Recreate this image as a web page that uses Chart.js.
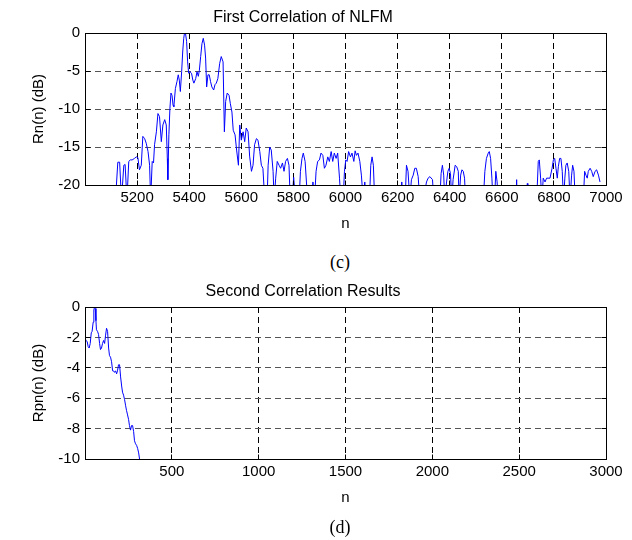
<!DOCTYPE html>
<html>
<head>
<meta charset="utf-8">
<script src="https://cdn.jsdelivr.net/npm/chart.js@4.4.1/dist/chart.umd.min.js"></script>
<style>
  html, body { margin: 0; padding: 0; background: #fff; }
  #page { position: relative; width: 632px; height: 540px; overflow: hidden; }
  .box { position: absolute; left: 0; width: 632px; height: 250px; }
  .cap { position: absolute; left: 300px; width: 80px; text-align: center; font: 18px "Liberation Serif", serif; color: #000; line-height: 20px; }
</style>
</head>
<body>
<div id="page">
  <div class="box" style="top:0"><canvas id="first"></canvas></div>
  <div class="cap" style="top:252px">(c)</div>
  <div class="box" style="top:274px"><canvas id="second"></canvas></div>
  <div class="cap" style="top:517px">(d)</div>
</div>
<script>
  // First correlation of NLFM (values below -20 dB run off the axis)
  const firstN = [
    5117, 5126, 5133, 5140, 5149, 5154, 5161, 5168, 5174, 5181,
    5190, 5197, 5203, 5209, 5216, 5222, 5229, 5235, 5242, 5248,
    5252, 5258, 5263, 5267, 5274, 5280, 5286, 5293, 5299, 5306,
    5312, 5316, 5318, 5322, 5326, 5330, 5334, 5338, 5341, 5347,
    5353, 5358, 5362, 5366, 5371, 5375, 5379, 5382, 5386, 5390,
    5394, 5398, 5403, 5409, 5414, 5418, 5425, 5430, 5435, 5439,
    5444, 5449, 5454, 5459, 5463, 5467, 5472, 5477, 5482, 5487,
    5494, 5499, 5504, 5510, 5517, 5523, 5530, 5535, 5540, 5546,
    5553, 5558, 5564, 5569, 5576, 5582, 5589, 5594, 5600, 5607,
    5613, 5619, 5626, 5632, 5639, 5645, 5651, 5658, 5664, 5671,
    5677, 5683, 5690, 5699, 5703, 5709, 5715, 5722, 5726, 5732,
    5738, 5745, 5751, 5758, 5764, 5770, 5777, 5783, 5788, 5795,
    5801, 5808, 5822, 5827, 5833, 5838, 5845, 5850, 5855, 5870,
    5875, 5881, 5887, 5893, 5900, 5906, 5913, 5919, 5925, 5932,
    5938, 5945, 5951, 5957, 5964, 5970, 5977, 5982, 5991, 5996,
    6001, 6006, 6012, 6019, 6025, 6032, 6037, 6042, 6048, 6055,
    6061, 6068, 6074, 6080, 6092, 6097, 6102, 6107, 6112, 6212,
    6216, 6221, 6229, 6234, 6240, 6247, 6253, 6260, 6266, 6272,
    6279, 6285, 6298, 6311, 6317, 6324, 6334, 6339, 6362, 6367,
    6372, 6377, 6381, 6388, 6393, 6398, 6403, 6408, 6413, 6421,
    6427, 6433, 6436, 6442, 6447, 6452, 6457, 6461, 6529, 6535,
    6541, 6548, 6552, 6557, 6562, 6566, 6572, 6577, 6582, 6586,
    6654, 6657, 6659, 6696, 6698, 6700, 6734, 6740, 6744, 6749,
    6754, 6759, 6766, 6772, 6785, 6793, 6798, 6803, 6808, 6813,
    6817, 6822, 6827, 6832, 6837, 6842, 6846, 6851, 6857, 6862,
    6868, 6872, 6877, 6882, 6913, 6918, 6923, 6928, 6932, 6939,
    6945, 6951, 6958, 6964, 6971, 6977
  ];
  const firstDb = [
    -22, -17.0, -17.0, -22, -17.4, -17.3, -22, -16.9, -16.7, -16.7,
    -16.5, -16.3, -16.4, -18.0, -17.4, -13.6, -13.9, -14.5, -15.6, -17.4,
    -22, -16.9, -17.1, -14.7, -13.0, -10.6, -11.0, -14.3, -12.1, -11.4,
    -12.1, -16.5, -19.3, -13.4, -9.9, -7.9, -8.2, -9.5, -9.7, -7.3,
    -6.4, -5.5, -6.2, -7.7, -5.1, -2.5, -0.7, 0, -0.1, -1.1,
    -3.8, -5.3, -5.1, -5.3, -6.2, -6.6, -6.0, -5.1, -5.7, -4.9,
    -3.1, -1.4, -0.7, -1.6, -3.3, -7.1, -5.5, -5.5, -6.4, -7.1,
    -7.5, -6.8, -6.6, -6.0, -4.0, -3.1, -3.8, -13.0, -9.0, -7.9,
    -8.2, -9.3, -10.4, -12.8, -13.4, -15.4, -17.4, -12.1, -14.1, -13.0,
    -14.3, -12.5, -13.0, -16.2, -18.2, -17.4, -14.7, -13.9, -14.1, -15.6,
    -17.4, -17.8, -22, -22, -17.4, -15.0, -15.4, -18.2, -22, -19.1,
    -16.9, -17.4, -17.8, -17.1, -18.2, -16.9, -16.5, -17.4, -22, -22,
    -19.0, -22, -22, -18.2, -16.5, -15.8, -16.9, -19.6, -22, -22,
    -19.6, -22, -18.2, -16.9, -16.7, -15.8, -16.1, -17.8, -17.4, -16.3,
    -16.9, -15.6, -16.9, -15.8, -16.5, -15.8, -19.1, -22, -22, -18.2,
    -16.7, -16.9, -15.6, -16.3, -15.8, -16.9, -15.5, -16.1, -15.8, -16.9,
    -18.7, -22, -19.6, -22, -22, -17.4, -16.3, -17.4, -22, -22,
    -19.6, -22, -22, -17.4, -18.2, -22, -19.3, -18.7, -17.8, -17.8,
    -18.9, -22, -22, -19.6, -19.1, -18.9, -19.3, -22, -22, -18.5,
    -17.4, -18.7, -22, -19.6, -18.2, -17.8, -18.5, -22, -19.3, -17.4,
    -17.6, -18.2, -22, -18.7, -18.0, -18.2, -19.1, -22, -22, -18.2,
    -16.5, -15.8, -15.6, -16.5, -19.1, -22, -22, -18.2, -19.6, -22,
    -22, -19.3, -22, -22, -19.8, -22, -22, -16.9, -16.7, -19.1,
    -22, -19.1, -19.6, -19.1, -19.1, -17.8, -16.7, -16.5, -17.8, -19.1,
    -17.6, -16.5, -16.5, -18.2, -22, -19.1, -17.4, -17.1, -18.2, -22,
    -18.7, -17.4, -18.2, -22, -22, -18.2, -18.7, -19.1, -18.2, -17.8,
    -18.2, -18.9, -18.2, -18.0, -18.7, -19.6
  ];

  // Second correlation results
  const secondN = [
    1, 7, 13, 18, 24, 30, 36, 41, 47, 51,
    55, 59, 63, 66, 72, 78, 84, 89, 95, 101,
    107, 113, 118, 124, 130, 136, 141, 147, 153, 159,
    164, 170, 176, 182, 187, 193, 199, 205, 211, 216,
    222, 228, 234, 239, 245, 251, 256, 262, 268, 274,
    280, 285, 291, 297, 303, 309, 314, 320
  ];
  const secondDb = [
    -2.1, -2.2, -2.3, -2.6, -2.7, -2.4, -1.7, -1.6, -1.0, -0.2,
    0, -0.1, -0.9, -1.5, -1.6, -1.8, -2.4, -2.8, -2.7, -2.4,
    -2.2, -2.4, -1.9, -1.4, -1.6, -2.7, -3.2, -3.3, -3.6, -4.2,
    -4.2, -4.3, -4.2, -4.4, -4.2, -3.8, -3.8, -4.6, -5.2, -5.6,
    -5.8, -6.1, -6.5, -6.8, -7.1, -7.4, -7.8, -8.1, -7.8, -7.8,
    -8.2, -8.8, -9.0, -9.1, -9.3, -9.6, -10.0, -10.3
  ];

  const firstXTicks = [5200, 5400, 5600, 5800, 6000, 6200, 6400, 6600, 6800, 7000];
  const firstYTicks = [0, -5, -10, -15, -20];
  const secondXTicks = [500, 1000, 1500, 2000, 2500, 3000];
  const secondYTicks = [0, -2, -4, -6, -8, -10];

  const FONT = '"Liberation Sans", Arial, sans-serif';

  // matlab style box with inward ticks on all four sides
  const boxPlugin = {
    id: 'matlabBox',
    afterDraw(chart) {
      const { ctx, chartArea: a, scales } = chart;
      const px = (v) => Math.round(v - 0.5) + 0.5;
      const L = px(a.left), R = px(a.right), T = px(a.top), B = px(a.bottom);
      ctx.save();
      ctx.strokeStyle = '#000';
      ctx.lineWidth = 1;
      ctx.setLineDash([]);
      ctx.beginPath();
      scales.x.ticks.forEach((t) => {
        const x = px(scales.x.getPixelForValue(t.value));
        ctx.moveTo(x, B); ctx.lineTo(x, B - 5);
        ctx.moveTo(x, T); ctx.lineTo(x, T + 5);
      });
      scales.y.ticks.forEach((t) => {
        const y = px(scales.y.getPixelForValue(t.value));
        ctx.moveTo(L, y); ctx.lineTo(L + 5, y);
        ctx.moveTo(R, y); ctx.lineTo(R - 5, y);
      });
      ctx.stroke();
      ctx.strokeRect(L, T, R - L, B - T);
      ctx.restore();
    }
  };

  function makeChart(id, title, xs, ys, xMin, xMax, xTicks, yMin, yMax, yTicks, yLabel) {
    return new Chart(document.getElementById(id), {
      type: 'line',
      data: {
        datasets: [{
          data: xs.map((x, i) => ({ x, y: ys[i] })),
          borderColor: '#0000ff',
          borderWidth: 1,
          pointRadius: 0,
          tension: 0,
          fill: false
        }]
      },
      options: {
        responsive: true,
        maintainAspectRatio: false,
        animation: false,
        layout: { padding: { left: 0, right: 26, top: 0, bottom: 0 } },
        plugins: {
          legend: { display: false },
          tooltip: { enabled: false },
          title: {
            display: true,
            text: title,
            color: '#000',
            font: { family: FONT, size: 16, weight: 'normal' },
            padding: { top: 8, bottom: 5.8 }
          }
        },
        scales: {
          x: {
            type: 'linear',
            min: xMin,
            max: xMax,
            afterBuildTicks: (s) => { s.ticks = xTicks.map((v) => ({ value: v })); },
            afterFit: (s) => { s.height = 65; },
            grid: { color: '#000', drawTicks: false },
            border: { display: false, dash: [6, 4] },
            ticks: {
              color: '#000',
              font: { family: FONT, size: 15 },
              padding: 4,
              maxRotation: 0,
              autoSkip: false,
              callback: (v) => String(v)
            },
            title: {
              display: true,
              text: 'n',
              color: '#000',
              font: { family: FONT, size: 15 },
              padding: { top: 0, bottom: 17 }
            }
          },
          y: {
            type: 'linear',
            min: yMin,
            max: yMax,
            afterBuildTicks: (s) => { s.ticks = yTicks.map((v) => ({ value: v })); },
            afterFit: (s) => { s.width = 85; },
            grid: { color: '#555', drawTicks: false },
            border: { display: false, dash: [6, 4] },
            ticks: {
              color: '#000',
              font: { family: FONT, size: 15 },
              padding: 5,
              callback: (v) => String(v)
            },
            title: {
              display: true,
              text: yLabel,
              color: '#000',
              font: { family: FONT, size: 15 },
              padding: { top: 30, bottom: 0 }
            }
          }
        }
      },
      plugins: [boxPlugin]
    });
  }

  makeChart('first', 'First Correlation of NLFM', firstN, firstDb,
    5000, 7000, firstXTicks, -20, 0, firstYTicks, 'Rn(n) (dB)');
  makeChart('second', 'Second Correlation Results', secondN, secondDb,
    0, 3000, secondXTicks, -10, 0, secondYTicks, 'Rpn(n) (dB)');
</script>
</body>
</html>
